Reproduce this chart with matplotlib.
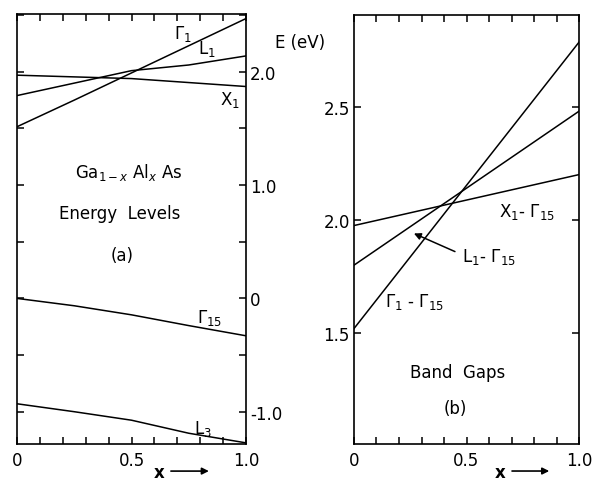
import numpy as np
import matplotlib
import matplotlib.pyplot as plt

matplotlib.use("Agg")

plt.rcParams['font.family'] = ['DejaVu Sans']
plt.rcParams['mathtext.fontset'] = 'dejavusans'

# composition x
x_pts = [0.0, 0.25, 0.5, 0.75, 1.0]

# (a) energy levels, eV
gamma1 = [1.515, 1.75, 1.99, 2.23, 2.47]
l1 = [1.79, 1.90, 2.01, 2.06, 2.14]
x1 = [1.97, 1.955, 1.94, 1.905, 1.87]
gamma15 = [0.0, -0.065, -0.145, -0.24, -0.33]
l3 = [-0.93, -1.0, -1.075, -1.19, -1.275]

# (b) band gaps, eV (straight lines)
x_gap = [0.0, 1.0]
gap_gamma = [1.52, 2.785]
gap_l = [1.80, 2.48]
gap_x = [1.975, 2.20]

left_yticks = [-1.0, -0.5, 0.0, 0.5, 1.0, 1.5, 2.0, 2.5]
left_ylabels = ['-1.0', '', '0', '', '1.0', '', '2.0', '']
right_yticks = [1.5, 2.0, 2.5]
right_ylabels = ['1.5', '2.0', '2.5']
xticks_major = [0.0, 0.5, 1.0]
xtick_labels = ['0', '0.5', '1.0']

fig = plt.figure(figsize=(5.94, 4.81), dpi=100)
ax1 = fig.add_axes([17/594, 1-445/481, 229/594, 430/481])
ax2 = fig.add_axes([354/594, 1-445/481, 225/594, 429/481])

lw = 1.1
for ax, xs in ((ax1, 0.62), (ax2, 0.65)):
    for s in ax.spines.values():
        s.set_linewidth(1.2)
    ax.set_xlim(0, 1.0)
    ax.set_xticks(xticks_major)
    ax.set_xticklabels(xtick_labels)
    ax.set_xticks(np.arange(0.1, 1.0, 0.1), minor=True)
    ax.tick_params(axis='x', which='both', direction='in', top=True, bottom=True,
                   length=5, width=1.1, labelsize=12, pad=5)
    ax.tick_params(axis='y', which='both', direction='in', left=True, right=True,
                   length=5, width=1.1, labelsize=12)
    ax.annotate('', xy=(xs + 0.23, -0.063), xytext=(xs + 0.04, -0.063), xycoords='axes fraction',
                arrowprops=dict(arrowstyle='-|>', lw=1.2, color='black', mutation_scale=10),
                annotation_clip=False)
    ax.text(xs, -0.066, 'x', transform=ax.transAxes, ha='center', va='center',
            fontsize=12, fontweight='bold')

# panel (a)
ax1.plot(x_pts, gamma1, color='black', lw=lw)
ax1.plot(x_pts, l1, color='black', lw=lw)
ax1.plot(x_pts, x1, color='black', lw=lw)
ax1.plot(x_pts, gamma15, color='black', lw=lw)
ax1.plot(x_pts, l3, color='black', lw=lw)
ax1.set_ylim(-1.285, 2.51)
ax1.set_yticks(left_yticks)
ax1.set_yticklabels(left_ylabels)
ax1.tick_params(axis='y', labelleft=False, labelright=True, pad=3)

fs = 12
ax1.text(0.725, 2.34, r'$\Gamma_1$', fontsize=fs, ha='center', va='center')
ax1.text(0.83, 2.21, r'$\mathrm{L}_1$', fontsize=fs, ha='center', va='center')
ax1.text(0.93, 1.76, r'$\mathrm{X}_1$', fontsize=fs, ha='center', va='center')
ax1.text(0.84, -0.16, r'$\Gamma_{15}$', fontsize=fs, ha='center', va='center')
ax1.text(0.81, -1.14, r'$\mathrm{L}_3$', fontsize=fs, ha='center', va='center')
ax1.text(0.49, 1.12, r'Ga$_{1-x}$ Al$_x$ As', fontsize=fs, ha='center', va='center')
ax1.text(0.45, 0.75, 'Energy  Levels', fontsize=fs, ha='center', va='center')
ax1.text(0.46, 0.38, '(a)', fontsize=fs, ha='center', va='center')

fig.text(300/594, 1-43/481, 'E (eV)', fontsize=fs, ha='center', va='center')

# panel (b)
ax2.plot(x_gap, gap_gamma, color='black', lw=lw)
ax2.plot(x_gap, gap_l, color='black', lw=lw)
ax2.plot(x_gap, gap_x, color='black', lw=lw)
ax2.set_ylim(1.01, 2.905)
ax2.set_yticks(right_yticks)
ax2.set_yticklabels(right_ylabels)
ax2.tick_params(axis='y', labelleft=True, labelright=False, pad=3)

ax2.text(0.77, 2.04, r'$\mathrm{X}_1$- $\Gamma_{15}$', fontsize=fs, ha='center', va='center')
ax2.text(0.60, 1.84, r'$\mathrm{L}_1$- $\Gamma_{15}$', fontsize=fs, ha='center', va='center')
ax2.annotate('', xy=(0.255, 1.945), xytext=(0.46, 1.855),
             arrowprops=dict(arrowstyle='-|>', lw=1.1, color='black', mutation_scale=10))
ax2.text(0.27, 1.64, r'$\Gamma_1$ - $\Gamma_{15}$', fontsize=fs, ha='center', va='center')
ax2.text(0.46, 1.33, 'Band  Gaps', fontsize=fs, ha='center', va='center')
ax2.text(0.45, 1.17, '(b)', fontsize=fs, ha='center', va='center')

fig.savefig('out.png', dpi=100)
